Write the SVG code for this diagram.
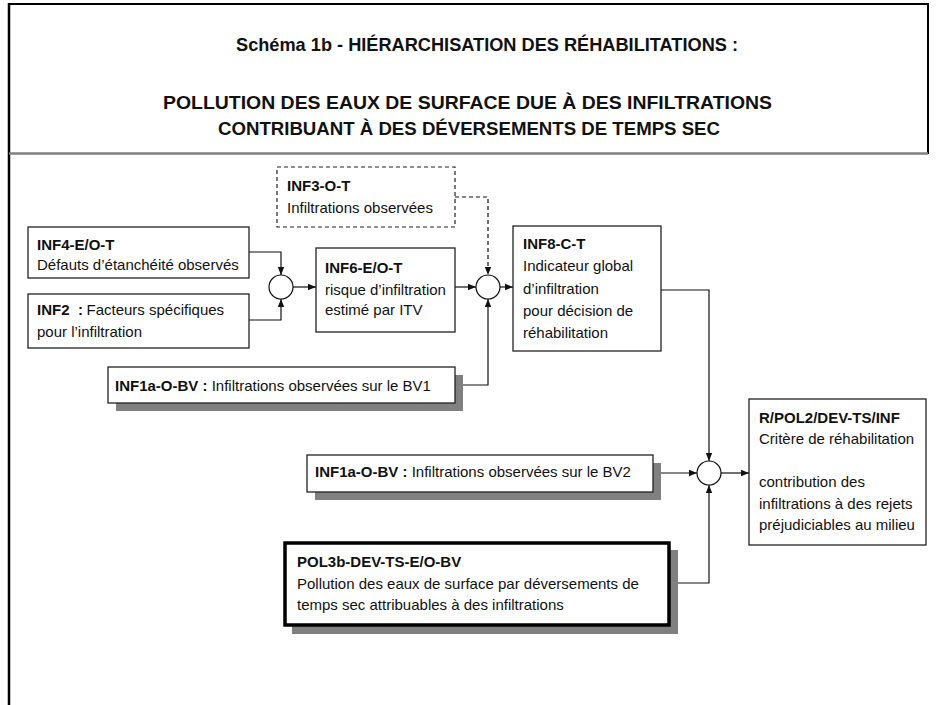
<svg xmlns="http://www.w3.org/2000/svg" width="936" height="705" viewBox="0 0 936 705">
<style>
  text { font-family: "Liberation Sans", Arial, sans-serif; font-size: 15px; fill: #111; }
  .b { font-weight: bold; }
  .title { font-size: 19px; font-weight: bold; text-anchor: middle; }
  .box { fill: #fff; stroke: #222; stroke-width: 1.3; }
  .dash { fill: #fff; stroke: #222; stroke-width: 1.2; stroke-dasharray: 4 3; }
  .thick { fill: #fff; stroke: #000; stroke-width: 3.5; }
  .shadow { fill: #808080; }
  .circ { fill: #fff; stroke: #111; stroke-width: 1.2; }
  .con { fill: none; stroke: #111; stroke-width: 1.2; }
  .con.d { stroke-dasharray: 4 3; }
</style>
<defs>
  <marker id="arr" markerUnits="userSpaceOnUse" markerWidth="8" markerHeight="8" viewBox="0 0 8 8" refX="8" refY="4" orient="auto">
    <path d="M0,0.8 L8,4 L0,7.2 Z" fill="#111"/>
  </marker>
</defs>
<rect width="936" height="705" fill="#fff"/>
<g id="frame">
  <line x1="9" y1="4" x2="928" y2="4" stroke="#000" stroke-width="2"/>
  <line x1="9" y1="3" x2="9" y2="705" stroke="#000" stroke-width="2.5"/>
  <line x1="928" y1="3" x2="928" y2="154" stroke="#000" stroke-width="2"/>
  <line x1="9" y1="153.5" x2="928" y2="153.5" stroke="#808080" stroke-width="2.5"/>
</g>
<g id="title">
  <text class="title" x="487" y="51" textLength="502" lengthAdjust="spacingAndGlyphs">Schéma 1b - HIÉRARCHISATION DES RÉHABILITATIONS :</text>
  <text class="title" x="467.5" y="109" textLength="609" lengthAdjust="spacingAndGlyphs">POLLUTION DES EAUX DE SURFACE DUE À DES INFILTRATIONS</text>
  <text class="title" x="469" y="135" textLength="502" lengthAdjust="spacingAndGlyphs">CONTRIBUANT À DES DÉVERSEMENTS DE TEMPS SEC</text>
</g>
<g id="connectors">
  <polyline class="con" points="249,252 281,252 281,275" marker-end="url(#arr)"/>
  <polyline class="con" points="249,320 281,320 281,299" marker-end="url(#arr)"/>
  <line class="con" x1="293" y1="287" x2="316" y2="287" marker-end="url(#arr)"/>
  <line class="con" x1="455" y1="287" x2="476" y2="287" marker-end="url(#arr)"/>
  <polyline class="con d" points="455,197 488,197 488,275" marker-end="url(#arr)"/>
  <polyline class="con" points="455,385 488,385 488,299" marker-end="url(#arr)"/>
  <line class="con" x1="500" y1="287" x2="513" y2="287" marker-end="url(#arr)"/>
  <polyline class="con" points="661,290 709,290 709,461" marker-end="url(#arr)"/>
  <line class="con" x1="653" y1="473" x2="697" y2="473" marker-end="url(#arr)"/>
  <polyline class="con" points="669,583 709,583 709,485" marker-end="url(#arr)"/>
  <line class="con" x1="721" y1="473" x2="749" y2="473" marker-end="url(#arr)"/>
</g>
<g id="inf3">
  <rect class="dash" x="277" y="167" width="178" height="60"/>
  <text class="b" x="287" y="191">INF3-O-T</text>
  <text x="287" y="213">Infiltrations observées</text>
</g>
<g id="inf4">
  <rect class="box" x="28" y="227" width="221" height="51"/>
  <text class="b" x="37" y="250">INF4-E/O-T</text>
  <text x="37" y="270">Défauts d’étanchéité observés</text>
</g>
<g id="inf2">
  <rect class="box" x="28" y="294" width="221" height="54"/>
  <text x="37" y="315"><tspan class="b">INF2</tspan><tspan class="b" x="78">:</tspan><tspan x="86.5">Facteurs spécifiques</tspan></text>
  <text x="37" y="337">pour l’infiltration</text>
</g>
<g id="sum1"><circle class="circ" cx="281" cy="287" r="12"/></g>
<g id="inf6">
  <rect class="box" x="316" y="248" width="139" height="84"/>
  <text class="b" x="325" y="273">INF6-E/O-T</text>
  <text x="325" y="295">risque d’infiltration</text>
  <text x="325" y="315">estimé par ITV</text>
</g>
<g id="inf1a-bv1">
  <rect class="shadow" x="116" y="375" width="347" height="36"/>
  <rect class="box" x="108" y="367" width="347" height="36"/>
  <text x="115" y="391"><tspan class="b">INF1a-O-BV :</tspan> Infiltrations observées sur le BV1</text>
</g>
<g id="sum2"><circle class="circ" cx="488" cy="287" r="12"/></g>
<g id="inf8">
  <rect class="box" x="513" y="226" width="148" height="125"/>
  <text class="b" x="523" y="249">INF8-C-T</text>
  <text x="523" y="271">Indicateur global</text>
  <text x="523" y="294">d’infiltration</text>
  <text x="523" y="316">pour décision de</text>
  <text x="523" y="338">réhabilitation</text>
</g>
<g id="inf1a-bv2">
  <rect class="shadow" x="315" y="463" width="346" height="37"/>
  <rect class="box" x="307" y="455" width="346" height="37"/>
  <text x="315" y="477"><tspan class="b">INF1a-O-BV :</tspan> Infiltrations observées sur le BV2</text>
</g>
<g id="sum3"><circle class="circ" cx="709" cy="473" r="12"/></g>
<g id="pol3b">
  <rect class="shadow" x="292" y="550" width="386" height="84"/>
  <rect class="thick" x="285" y="543" width="384" height="82"/>
  <text class="b" x="297" y="567">POL3b-DEV-TS-E/O-BV</text>
  <text x="297" y="589">Pollution des eaux de surface par déversements de</text>
  <text x="297" y="610">temps sec attribuables à des infiltrations</text>
</g>
<g id="rpol2">
  <rect class="box" x="749" y="399" width="177" height="146"/>
  <text class="b" x="759" y="423">R/POL2/DEV-TS/INF</text>
  <text x="759" y="444">Critère de réhabilitation</text>
  <text x="759" y="487">contribution des</text>
  <text x="759" y="509">infiltrations à des rejets</text>
  <text x="759" y="530">préjudiciables au milieu</text>
</g>
</svg>
